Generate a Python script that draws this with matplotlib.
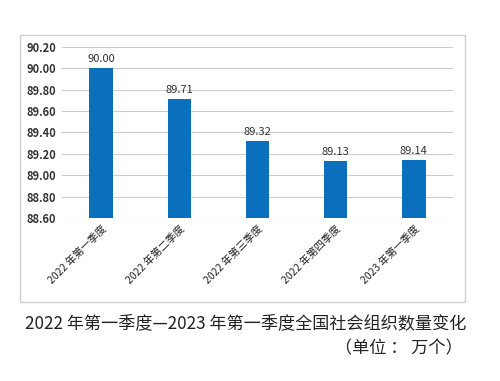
import matplotlib.pyplot as plt
from matplotlib.patches import Rectangle

plt.rcParams['font.family'] = ['Noto Sans CJK SC', 'DejaVu Sans']

quarters = ['2022 年第一季度', '2022 年第二季度', '2022 年第三季度', '2022 年第四季度', '2023 年第一季度']
counts = [90.00, 89.71, 89.32, 89.13, 89.14]
yticks = [88.6, 88.8, 89.0, 89.2, 89.4, 89.6, 89.8, 90.0, 90.2]

fig = plt.figure(figsize=(5, 3.81), dpi=100)

# outer chart frame
fig.patches.append(Rectangle((0.04, 0.207), 0.89, 0.70, transform=fig.transFigure,
                             fill=False, edgecolor='#d0d0d0', linewidth=1))

ax = fig.add_axes([0.124, 0.428, 0.782, 0.449])
x = range(len(quarters))
bars = ax.bar(x, counts, width=0.3, color='#0a6fbd', zorder=3)
for i, v in enumerate(counts):
    ax.text(i, v + 0.04, f'{v:.2f}', ha='center', va='bottom', fontsize=8, color='#333333')

ax.set_ylim(88.6, 90.2)
ax.set_xlim(-0.5, len(quarters) - 0.5)
ax.set_yticks(yticks)
ax.set_yticklabels([f'{t:.2f}' for t in yticks], fontsize=8, fontweight='bold', color='#333333')
ax.yaxis.grid(True, color='#cccccc', linewidth=0.8, zorder=0)
ax.set_xticks(list(x))
ax.set_xticklabels(quarters, rotation=45, ha='right', rotation_mode='anchor', fontsize=7.5, color='#222222')
ax.tick_params(length=0, pad=4)
for s in ax.spines.values():
    s.set_visible(False)

fig.text(0.05, 0.152, '2022 年第一季度—2023 年第一季度全国社会组织数量变化', fontsize=12.3, color='#222222', va='center')
fig.text(0.926, 0.085, '（单位 ： 万个）', fontsize=12.3, color='#222222', ha='right', va='center')

fig.savefig('out.png', dpi=100)
